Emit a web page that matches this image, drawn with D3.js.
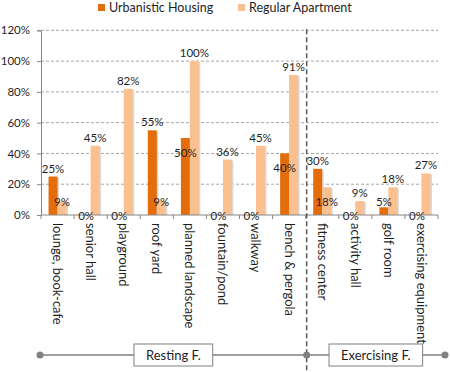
<!DOCTYPE html>
<html>
<head>
<meta charset="utf-8">
<script src="https://cdn.jsdelivr.net/npm/d3@7"></script>
<style>
  body { margin: 0; background: #fff; }
  text { font-family: Lato, "Open Sans", sans-serif; fill: #1f1f1f; }
</style>
</head>
<body>
<svg id="chart" width="450" height="372"></svg>
<script>
var categories = ["lounge, book-cafe", "senior hall", "playground", "roof yard", "planned landscape",
                  "fountain/pond", "walkway", "bench & pergola", "fitness center", "activity hall",
                  "golf room", "exercising equipment"];
var urbanistic = [25, 0, 0, 55, 50, 0, 0, 40, 30, 0, 5, 0];
var regular = [9, 45, 82, 9, 100, 36, 45, 91, 18, 9, 18, 27];
var seriesNames = ["Urbanistic Housing", "Regular Apartment"];
var yTicks = [0, 20, 40, 60, 80, 100, 120];
var groupNames = ["Resting F.", "Exercising F."];
var groupStarts = [0, 8];

var colors = ["#E46C0A", "#FAC090"];

var svg = d3.select("#chart"),
    plotLeft = 41, plotRight = 438, plotTop = 30.3, plotBottom = 215;

var x = d3.scaleBand()
    .domain(categories)
    .range([plotLeft, plotRight]);

var xs = d3.scaleBand()
    .domain([0, 1])
    .range([0, x.bandwidth()])
    .paddingOuter(0.84);

var y = d3.scaleLinear()
    .domain([0, 120])
    .range([plotBottom, plotTop]);

// gridlines
svg.append("g")
  .selectAll("line")
  .data(yTicks.slice(1))
  .enter().append("line")
    .attr("x1", plotLeft).attr("x2", plotRight)
    .attr("y1", function(d) { return y(d); })
    .attr("y2", function(d) { return y(d); })
    .attr("stroke", "#a6a6a6")
    .attr("stroke-dasharray", "3,2");

// y axis
var yAxis = svg.append("g")
    .attr("transform", "translate(" + plotLeft + ",0)")
    .call(d3.axisLeft(y).tickValues(yTicks).tickSize(4).tickPadding(7)
      .tickFormat(function(d) { return d + "%"; }));
yAxis.select(".domain").attr("stroke", "#868686");
yAxis.selectAll(".tick line").attr("stroke", "#868686");
yAxis.selectAll("text").style("font-size", "11.5px").style("font-family", "Lato, sans-serif").attr("fill", "#1f1f1f");

// bars
var series = [urbanistic, regular];
series.forEach(function(vals, s) {
  var g = svg.append("g");
  g.selectAll("rect.shadow")
    .data(vals)
    .enter().append("rect")
      .attr("class", "shadow")
      .attr("x", function(d, i) { return x(categories[i]) + xs(s) + 1.5; })
      .attr("y", function(d) { return y(d) + 1; })
      .attr("width", xs.bandwidth())
      .attr("height", function(d) { return d > 0 ? plotBottom - y(d) - 1 : 0; })
      .attr("fill", "#d9d9d9");
  g.selectAll("rect.bar")
    .data(vals)
    .enter().append("rect")
      .attr("class", "bar")
      .attr("x", function(d, i) { return x(categories[i]) + xs(s); })
      .attr("y", function(d) { return y(d); })
      .attr("width", xs.bandwidth())
      .attr("height", function(d) { return plotBottom - y(d); })
      .attr("fill", colors[s]);
});

// x axis line and boundary ticks
svg.append("line")
  .attr("x1", plotLeft).attr("x2", plotRight)
  .attr("y1", plotBottom).attr("y2", plotBottom)
  .attr("stroke", "#868686");
svg.append("g")
  .selectAll("line")
  .data(categories.map(function(c) { return x(c); }).concat([plotRight]))
  .enter().append("line")
    .attr("x1", function(d) { return d; }).attr("x2", function(d) { return d; })
    .attr("y1", plotBottom).attr("y2", plotBottom + 4)
    .attr("stroke", "#868686");

// category labels
var xAxis = svg.append("g")
    .attr("transform", "translate(0," + plotBottom + ")")
    .call(d3.axisBottom(x).tickSize(0));
xAxis.select(".domain").remove();
xAxis.selectAll("text")
    .attr("transform", "rotate(90)")
    .attr("x", 8).attr("y", 0).attr("dy", "0.35em")
    .style("text-anchor", "start")
    .style("font-size", "13px")
    .style("font-family", "Lato, sans-serif")
    .attr("fill", "#1f1f1f");

// value labels
series.forEach(function(vals, s) {
  var other = series[1 - s];
  svg.append("g")
    .selectAll("text")
    .data(vals)
    .enter().append("text")
      .attr("x", function(d, i) { return x(categories[i]) + xs(s) + xs.bandwidth() / 2; })
      .attr("y", function(d, i) {
        if (d === 0) return y(0) + 1;
        if (other[i] > d) return Math.min(y(d) + 15, y(0) - 13);
        return y(d) - 8;
      })
      .attr("dy", "0.35em")
      .attr("text-anchor", "middle")
      .style("font-size", "11.5px")
      .text(function(d) { return d + "%"; });
});

// legend
var legend = svg.append("g");
var legendX = [98, 238];
seriesNames.forEach(function(name, s) {
  legend.append("rect")
    .attr("x", legendX[s]).attr("y", 4)
    .attr("width", 7).attr("height", 7)
    .attr("fill", colors[s]);
  legend.append("text")
    .attr("x", legendX[s] + 11).attr("y", 12)
    .style("font-size", "12.5px")
    .text(name);
});

// group divider
var divX = x(categories[groupStarts[1]]) + 1;
svg.append("line")
  .attr("x1", divX).attr("x2", divX)
  .attr("y1", plotTop - 1).attr("y2", 372)
  .attr("stroke", "#595959")
  .attr("stroke-width", 1.5)
  .attr("stroke-dasharray", "5,3");

// group bracket
var lineY = 355,
    stops = [plotLeft - 1, divX, plotRight + 7];
svg.append("line")
  .attr("x1", stops[0]).attr("x2", stops[2])
  .attr("y1", lineY).attr("y2", lineY)
  .attr("stroke", "#808080")
  .attr("stroke-width", 1.5);
svg.append("g")
  .selectAll("circle")
  .data(stops)
  .enter().append("circle")
    .attr("cx", function(d) { return d; })
    .attr("cy", lineY)
    .attr("r", 3.5)
    .attr("fill", "#808080");

groupNames.forEach(function(name, k) {
  var cx = (stops[k] + stops[k + 1]) / 2;
  var g = svg.append("g");
  var box = g.append("rect");
  var t = g.append("text")
    .attr("x", cx).attr("y", lineY)
    .attr("dy", "0.35em")
    .attr("text-anchor", "middle")
    .style("font-size", "13px")
    .text(name);
  var w = t.node().getComputedTextLength() + 24;
  box.attr("x", cx - w / 2).attr("y", lineY - 11)
    .attr("width", w).attr("height", 22)
    .attr("fill", "#fff")
    .attr("stroke", "#808080");
});
</script>
</body>
</html>
